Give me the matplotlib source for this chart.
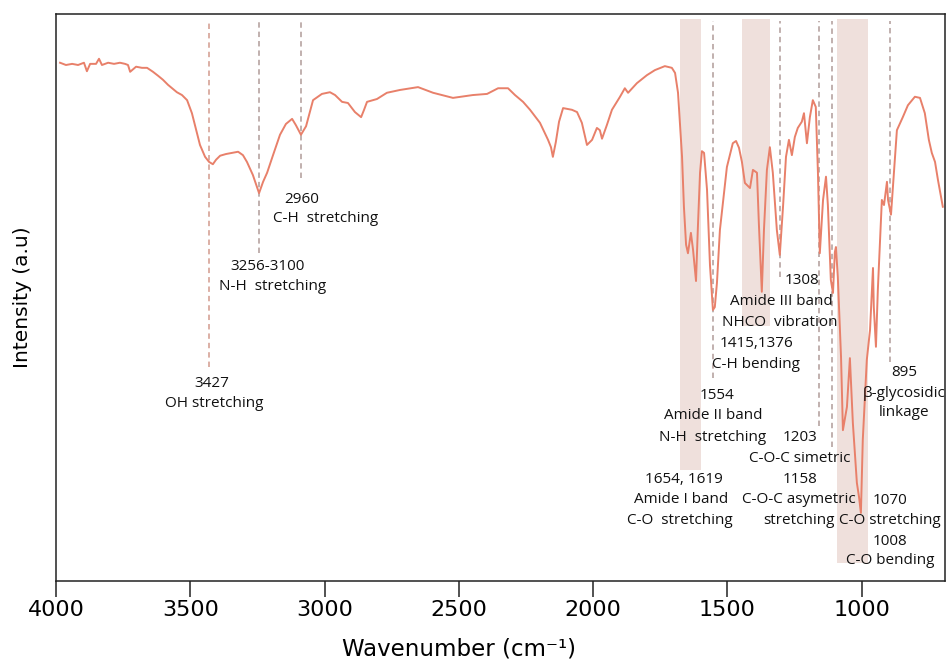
import numpy as np
import matplotlib.pyplot as plt

# FTIR spectrum (wavenumber in cm-1, intensity in a.u.)
wavenumber = [3985, 3963, 3940, 3918, 3896, 3885, 3873, 3851, 3840, 3829,
              3806, 3784, 3762, 3743, 3732, 3724, 3702, 3680, 3661, 3639,
              3620, 3602, 3583, 3568, 3550, 3531, 3512, 3494, 3475, 3464,
              3445, 3430, 3416, 3404, 3389, 3367, 3345, 3322, 3304, 3289,
              3267, 3244, 3229, 3214, 3192, 3166, 3144, 3121, 3107, 3088,
              3069, 3043, 3010, 2980, 2961, 2935, 2913, 2887, 2864, 2853,
              2842, 2805, 2768, 2719, 2652, 2596, 2522, 2448, 2395, 2354,
              2317, 2291, 2261, 2235, 2198, 2168, 2157, 2150, 2139, 2127,
              2112, 2079, 2060, 2042, 2023, 2004, 1986, 1975, 1967, 1949,
              1930, 1900, 1882, 1870, 1837, 1800, 1770, 1733, 1707, 1695,
              1684, 1669, 1662, 1654, 1647, 1636, 1628, 1617, 1610, 1602,
              1595, 1587, 1576, 1565, 1554, 1547, 1539, 1528, 1502, 1480,
              1468, 1457, 1446, 1435, 1416, 1405, 1390, 1383, 1372, 1364,
              1353, 1342, 1331, 1316, 1305, 1293, 1282, 1271, 1260, 1249,
              1238, 1223, 1215, 1204, 1193, 1182, 1171, 1163, 1156, 1144,
              1133, 1126, 1115, 1107, 1100, 1096, 1089, 1077, 1070, 1055,
              1044, 1033, 1018, 1010, 1003, 996, 981, 969, 958, 955,
              947, 940, 925, 917, 906, 902, 891, 880, 869, 847,
              828, 802, 783, 765, 750, 739, 727, 716, 698]
intensity = [91.4, 91.0, 91.2, 91.0, 91.4, 89.9, 91.2, 91.2, 92.1, 91.0,
             91.4, 91.2, 91.4, 91.2, 91.0, 89.8, 90.7, 90.5, 90.5, 89.8,
             89.1, 88.4, 87.5, 86.9, 86.2, 85.7, 84.8, 82.5, 79.0, 76.9,
             74.8, 73.9, 73.5, 74.3, 75.0, 75.3, 75.5, 75.7, 75.1, 73.9,
             71.6, 68.4, 70.4, 72.0, 75.1, 78.7, 80.6, 81.5, 80.4, 78.7,
             80.2, 84.8, 85.9, 86.2, 85.7, 84.5, 84.3, 82.7, 81.8, 83.1,
             84.5, 85.0, 86.1, 86.6, 87.1, 86.1, 85.2, 85.7, 85.9, 86.9,
             86.9, 85.7, 84.5, 83.1, 80.8, 77.8, 76.5, 74.8, 77.4, 81.0,
             83.4, 83.1, 82.7, 80.8, 76.9, 77.8, 79.9, 79.5, 78.0, 80.4,
             83.1, 85.4, 86.9, 86.1, 87.8, 89.2, 90.1, 90.8, 90.5, 89.6,
             86.1, 74.8, 66.0, 59.3, 57.8, 61.4, 58.4, 52.9, 62.4, 72.0,
             75.8, 75.5, 69.0, 55.7, 47.8, 48.3, 52.6, 61.9, 73.0, 77.2,
             77.6, 76.4, 73.9, 70.2, 69.3, 72.5, 72.0, 63.1, 51.0, 61.9,
             72.5, 76.5, 72.0, 61.9, 57.5, 66.0, 74.8, 77.8, 75.1, 78.3,
             79.9, 81.0, 82.5, 77.2, 81.8, 84.8, 83.6, 72.0, 57.8, 67.2,
             71.3, 66.3, 53.1, 50.8, 58.0, 58.9, 53.6, 39.5, 26.6, 30.7,
             39.3, 27.9, 17.3, 14.8, 12.0, 24.9, 39.0, 44.3, 55.2, 48.3,
             41.3, 51.3, 67.2, 66.3, 70.4, 67.2, 64.6, 72.0, 79.5, 81.8,
             83.9, 85.4, 85.2, 82.5, 77.8, 75.5, 73.9, 70.7, 66.0]

# shaded regions (wavenumber range, lower end of the shading)
band_lo = [1599, 1342, 977]
band_hi = [1677, 1446, 1092]
band_bottom = [19.6, 45.0, 3.2]

# dashed peak markers
peak_pos = [3430, 3244, 3088, 1554, 1305, 1159, 1111, 895]
peak_bottom = [37.7, 57.8, 71.1, 35.8, 53.6, 27.3, 23.6, 38.6]

# annotation text lines
label_text = ["3427", "OH stretching",
              "3256-3100", "N-H  stretching",
              "2960", "C-H  stretching",
              "1308", "Amide III band", "NHCO  vibration",
              "1415,1376", "C-H bending",
              "1554", "Amide II band", "N-H  stretching",
              "1203", "C-O-C simetric", "1158", "C-O-C asymetric", "stretching",
              "1654, 1619", "Amide I band", "C-O  stretching",
              "895", "\u03b2-glycosidic", "linkage",
              "1070", "C-O stretching", "1008", "C-O bending"]
label_x = [3419, 3412, 3211, 3192, 3084, 2995,
           1223, 1301, 1305, 1390, 1394,
           1539, 1554, 1554,
           1230, 1230, 1230, 1234, 1234,
           1662, 1673, 1677,
           843, 843, 843,
           895, 895, 895, 895]
label_y = [35.1, 31.6, 55.9, 52.2, 67.7, 64.2,
           53.3, 49.6, 45.9, 42.3, 38.6,
           33.0, 29.5, 25.7,
           25.6, 22.0, 18.3, 14.8, 11.1,
           18.3, 14.8, 11.1,
           37.2, 33.5, 30.0,
           14.6, 11.1, 7.4, 3.9]

fig = plt.figure(figsize=(9.48, 6.62), dpi=100)
ax = fig.add_axes([0.0591, 0.1224, 0.9377, 0.8565])

for lo, hi, b in zip(band_lo, band_hi, band_bottom):
    ax.fill_between([hi, lo], b, 99.1, color='#efe0dc', lw=0, zorder=1)

for i, (p, b) in enumerate(zip(peak_pos, peak_bottom)):
    c = '#d9a99e' if i == 0 else '#bcaaa8'
    ax.vlines(p, b, 98.8, colors=c, linestyles=(0, (3, 2.2)), lw=1.3, zorder=2)

ax.plot(wavenumber, intensity, color='#e8806a', lw=1.4, zorder=3)

for t, x, y in zip(label_text, label_x, label_y):
    ax.text(x, y, t, ha='center', va='center_baseline', fontsize=11,
            family=['Open Sans', 'DejaVu Sans'], color='#111111', zorder=4)

ax.set_xlim(4000, 690)
ax.set_ylim(0, 100)
ax.set_yticks([])
ax.set_xticks([4000, 3500, 3000, 2500, 2000, 1500, 1000])
ax.tick_params(axis='x', direction='out', length=11.5, width=1.1, pad=2,
               labelsize=16, color='#222222')
for s in ax.spines.values():
    s.set_linewidth(1.1)
    s.set_color('#222222')

ax.set_xlabel('Wavenumber (cm\u207b\u00b9)', fontsize=16.5)
ax.xaxis.set_label_coords(0.453, -0.099)
ax.set_ylabel('Intensity (a.u)', fontsize=14.5, labelpad=17)

fig.savefig('out.png', dpi=100)
